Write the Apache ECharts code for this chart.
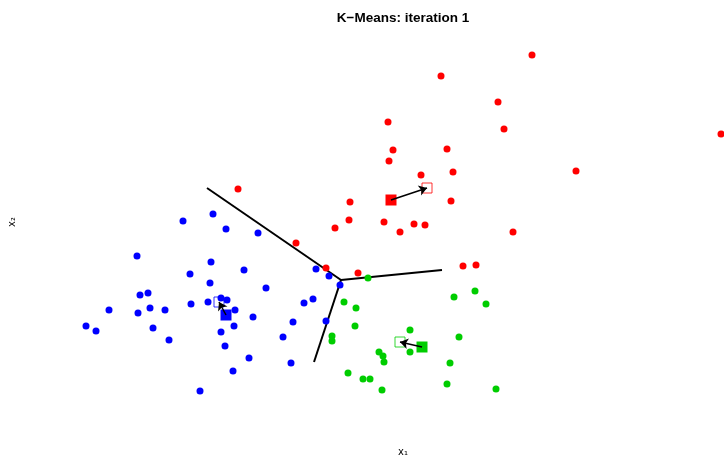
<!DOCTYPE html>
<html>
<head>
<meta charset="utf-8">
<script src="https://cdn.jsdelivr.net/npm/echarts@6/dist/echarts.min.js"></script>
<style>html,body{margin:0;padding:0;background:#fff}#c{width:724px;height:458px}</style>
</head>
<body>
<div id="c"></div>
<script>
const titleText = 'K\u2212Means: iteration 1';
const xLabel = 'x\u2081';
const yLabel = 'x\u2082';

const redPoints = [[1.32,1.95],[0.41,1.74],[0.98,1.48],[1.04,1.21],[3.21,1.16],[0.47,1.01],[0.53,0.78],[1.76,0.79],[0.51,0.49],[1.13,0.18],[0.63,-0.16],[0.76,-0.15],[-0.12,1.28],[-0.07,1.00],[-0.11,0.89],[0.21,0.75],[-1.62,0.61],[-0.50,0.48],[-0.51,0.30],[-0.65,0.22],[-0.16,0.28],[0.00,0.18],[0.14,0.26],[0.25,0.25],[-1.04,0.07],[-0.74,-0.18],[-0.42,-0.23]];
const bluePoints = [[-1.87,0.36],[-2.17,0.29],[-1.74,0.21],[-1.42,0.17],[-2.63,-0.06],[-1.89,-0.12],[-2.10,-0.24],[-1.56,-0.20],[-1.90,-0.33],[-1.34,-0.38],[-2.60,-0.45],[-2.52,-0.43],[-1.79,-0.48],[-1.73,-0.50],[-2.09,-0.54],[-1.92,-0.52],[-2.91,-0.60],[-2.62,-0.63],[-2.50,-0.58],[-2.35,-0.60],[-1.65,-0.60],[-1.47,-0.67],[-3.14,-0.76],[-3.04,-0.81],[-2.47,-0.78],[-1.66,-0.76],[-2.31,-0.90],[-1.79,-0.82],[-1.75,-0.96],[-1.51,-1.08],[-1.67,-1.21],[-2.00,-1.41],[-0.84,-0.19],[-0.71,-0.26],[-0.60,-0.35],[-0.96,-0.53],[-0.87,-0.49],[-1.07,-0.72],[-0.74,-0.71],[-1.17,-0.87],[-1.09,-1.13]];
const greenPoints = [[-0.32,-0.28],[-0.56,-0.52],[-0.44,-0.58],[-0.45,-0.76],[-0.68,-0.86],[-0.68,-0.91],[0.10,-0.80],[0.10,-1.02],[-0.21,-1.02],[-0.17,-1.06],[-0.16,-1.12],[-0.52,-1.23],[-0.37,-1.29],[-0.30,-1.29],[-0.18,-1.40],[0.54,-0.47],[0.75,-0.41],[0.86,-0.54],[0.59,-0.87],[0.50,-1.13],[0.47,-1.34],[0.96,-1.39]];

// centroids: [red, blue, green]
const oldCenters = [[-0.09,0.50],[-1.74,-0.65],[0.22,-0.97]];
const newCenters = [[0.27,0.62],[-1.81,-0.52],[0.00,-0.92]];
const clusterColors = ['#FF0000','#0000FF','#00CD00'];

// Voronoi boundary segments (junction -> end)
const boundaryJunction = [-0.59,-0.30];
const boundaryEnds = [[-1.93,0.62],[0.42,-0.20],[-0.86,-1.12]];

const chart = echarts.init(document.getElementById('c'), null, {renderer:'canvas'});
const hiddenAxis = {
  axisLine:{show:false}, axisTick:{show:false}, axisLabel:{show:false}, splitLine:{show:false}
};
const pointSeries = (data, color) => ({
  type:'scatter', data, symbol:'circle', symbolSize:7, clip:false,
  itemStyle:{color, opacity:1}, z:3, silent:true
});
const labelFont = 'DejaVu Sans, sans-serif';

chart.setOption({
  animation:false,
  backgroundColor:'#ffffff',
  title:{
    text:titleText, left:398, top:6, textAlign:'center',
    textStyle:{fontFamily:'Liberation Sans, Arial, sans-serif', fontWeight:'bold', fontSize:13.5, color:'#000'}
  },
  grid:{left:61, top:42, width:663, height:362, containLabel:false},
  xAxis:Object.assign({type:'value', min:-3.39, max:3.24}, hiddenAxis),
  yAxis:Object.assign({type:'value', min:-1.54, max:2.08}, hiddenAxis),
  graphic:[
    {type:'text', x:403, y:452, style:{text:xLabel, font:'10px ' + labelFont, fill:'#000', align:'center', verticalAlign:'middle'}},
    {type:'text', x:12, y:222, rotation:Math.PI/2, style:{text:yLabel, font:'10px ' + labelFont, fill:'#000', align:'center', verticalAlign:'middle'}}
  ],
  series:[
    {
      type:'lines', coordinateSystem:'cartesian2d', silent:true, z:2,
      lineStyle:{color:'#000', width:2, opacity:1},
      data: boundaryEnds.map(e => ({coords:[boundaryJunction, e]}))
    },
    pointSeries(redPoints, clusterColors[0]),
    pointSeries(bluePoints, clusterColors[1]),
    pointSeries(greenPoints, clusterColors[2]),
    {
      type:'scatter', symbol:'rect', symbolSize:11, z:4, silent:true, clip:false,
      data: oldCenters.map((c,i) => ({value:c, itemStyle:{color:clusterColors[i], opacity:1}}))
    },
    {
      type:'scatter', symbol:'rect', symbolSize:10, z:4, silent:true, clip:false,
      data: newCenters.map((c,i) => ({value:c, itemStyle:{color:'rgba(255,255,255,0)', borderColor:clusterColors[i], borderWidth:1, opacity:0.8}}))
    },
    {
      type:'lines', coordinateSystem:'cartesian2d', silent:true, z:5,
      symbol:['none','arrow'], symbolSize:8,
      lineStyle:{color:'#000', width:1.5, opacity:1},
      data: oldCenters.map((c,i) => ({coords:[c, newCenters[i]]}))
    }
  ]
});
</script>
</body>
</html>
